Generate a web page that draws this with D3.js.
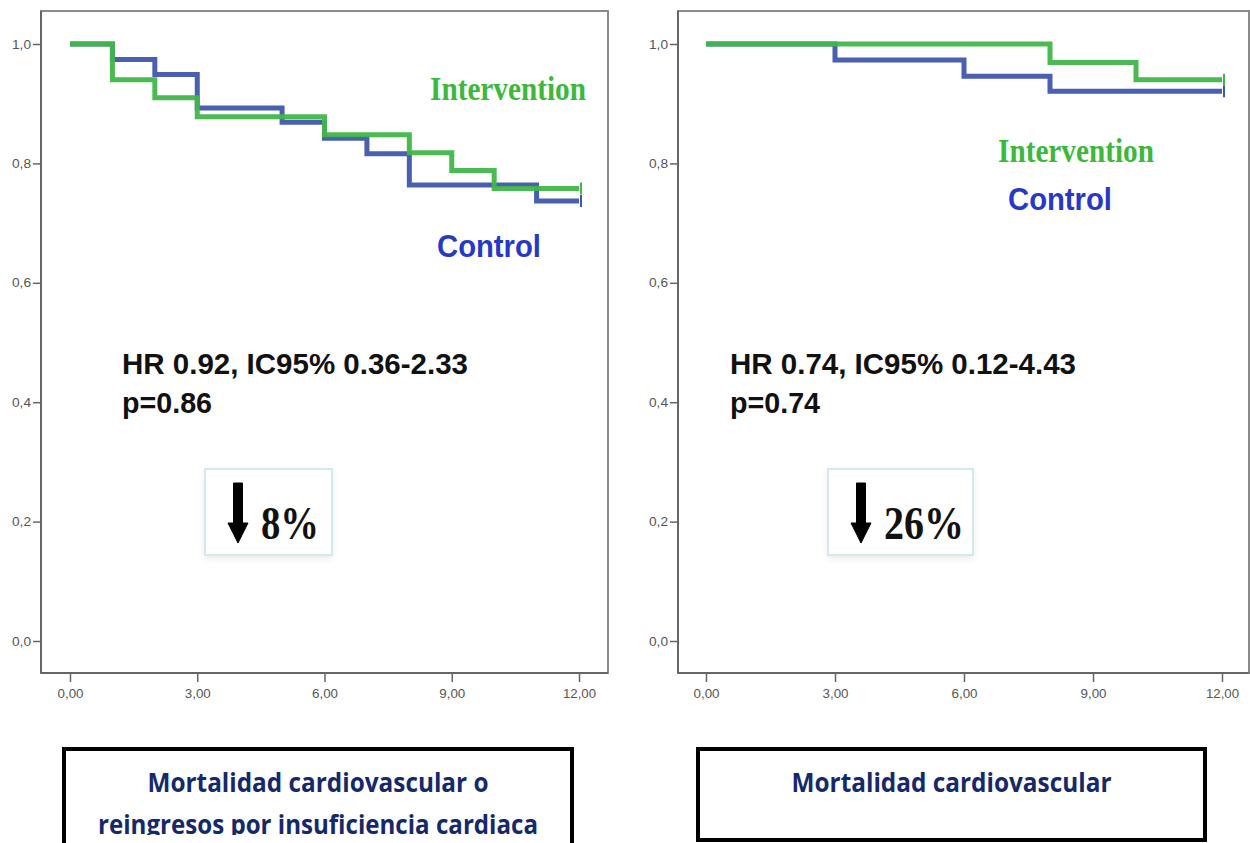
<!DOCTYPE html>
<html>
<head>
<meta charset="utf-8">
<script src="https://cdn.jsdelivr.net/npm/d3@7"></script>
<style>
  html, body { margin: 0; padding: 0; background: #fff; }
  svg { display: block; }
</style>
</head>
<body>
<svg id="chart" width="1250" height="843"></svg>
<script>
// Kaplan-Meier steps (months, survival)
const leftControlTimes = [0, 1, 2, 3, 5, 6, 7, 8, 11, 12];
const leftControlSurv = [1.0, 0.974, 0.949, 0.893, 0.869, 0.842, 0.816, 0.764, 0.737, 0.737];
const leftInterventionTimes = [0, 1, 2, 3, 6, 8, 9, 10, 12];
const leftInterventionSurv = [1.0, 0.940, 0.910, 0.878, 0.848, 0.818, 0.788, 0.758, 0.758];

const rightControlTimes = [0, 3, 6, 8, 12];
const rightControlSurv = [1.0, 0.973, 0.946, 0.921, 0.921];
const rightInterventionTimes = [0, 8, 10, 12];
const rightInterventionSurv = [1.0, 0.969, 0.940, 0.940];

const xTicks = [0, 3, 6, 9, 12];
const yTicks = [0, 0.2, 0.4, 0.6, 0.8, 1.0];

const leftStats = ["HR 0.92, IC95% 0.36-2.33", "p=0.86"];
const rightStats = ["HR 0.74, IC95% 0.12-4.43", "p=0.74"];
const leftReduction = "8%";
const rightReduction = "26%";
const leftTitle = ["Mortalidad cardiovascular o", "reingresos por insuficiencia cardiaca"];
const rightTitle = ["Mortalidad cardiovascular"];

const colors = {
    controlLine: "#3f56ad",
    interventionLine: "#41b64a",
    controlText: "#2639c6",
    interventionText: "#3cb93c",
    title: "#15296a"
};

const svg = d3.select("#chart");

const defs = svg.append("defs");
defs.append("filter").attr("id", "soft")
    .attr("x", "-10%").attr("y", "-10%").attr("width", "130%").attr("height", "140%")
    .append("feDropShadow")
    .attr("dx", 0).attr("dy", 3).attr("stdDeviation", 3)
    .attr("flood-color", "#000").attr("flood-opacity", 0.08);
defs.append("clipPath").attr("id", "bottomClip")
    .append("rect").attr("x", 0).attr("y", 0).attr("width", 1250).attr("height", 835);

const fmtY = d => d3.format(".1f")(d).replace(".", ",");
const fmtX = d => d3.format(".2f")(d).replace(".", ",");

function pairs(times, surv) {
    return times.map((t, i) => ({t: t, s: surv[i]}));
}

function drawPanel(cfg) {
    const g = svg.append("g");
    const x = d3.scaleLinear().domain([0, 12]).range(cfg.xRange);
    const y = d3.scaleLinear().domain([0, 1]).range([641, 44]);

    // frame
    g.append("rect")
        .attr("x", cfg.frame[0]).attr("y", 11)
        .attr("width", cfg.frame[1] - cfg.frame[0]).attr("height", 673 - 11)
        .attr("fill", "#fff").attr("stroke", "#8a8a8a").attr("stroke-width", 2);
    g.append("line")
        .attr("x1", cfg.frame[0]).attr("x2", cfg.frame[0]).attr("y1", 11).attr("y2", 673)
        .attr("stroke", "#666").attr("stroke-width", 2);
    g.append("line")
        .attr("x1", cfg.frame[0]).attr("x2", cfg.frame[1]).attr("y1", 673).attr("y2", 673)
        .attr("stroke", "#666").attr("stroke-width", 2);

    // axes
    const yAxis = d3.axisLeft(y).tickValues(yTicks).tickFormat(fmtY).tickSize(8).tickPadding(2);
    g.append("g").attr("transform", `translate(${cfg.frame[0]},0)`).call(yAxis)
        .call(a => a.select(".domain").remove())
        .call(a => a.selectAll("line").attr("stroke", "#666").attr("stroke-width", 1.5))
        .call(a => a.selectAll("text").attr("fill", "#555")
            .style("font", "13px 'Liberation Sans', Arial, sans-serif")
            .attr("textLength", 19).attr("lengthAdjust", "spacingAndGlyphs"));

    const xAxis = d3.axisBottom(x).tickValues(xTicks).tickFormat(fmtX).tickSize(9).tickPadding(7);
    g.append("g").attr("transform", "translate(0,673)").call(xAxis)
        .call(a => a.select(".domain").remove())
        .call(a => a.selectAll("line").attr("stroke", "#666").attr("stroke-width", 1.5))
        .call(a => a.selectAll("text").attr("fill", "#555")
            .style("font", "13px 'Liberation Sans', Arial, sans-serif")
            .attr("textLength", d => d >= 10 ? 33 : 26).attr("lengthAdjust", "spacingAndGlyphs"));

    // survival curves
    const line = d3.line().x(d => x(d.t)).y(d => y(d.s)).curve(d3.curveStepAfter);
    const series = [
        {data: cfg.control, color: colors.controlLine},
        {data: cfg.intervention, color: colors.interventionLine}
    ];
    series.forEach(s => {
        g.append("path").datum(s.data)
            .attr("d", line)
            .attr("fill", "none")
            .attr("stroke", s.color)
            .attr("stroke-width", 5)
            .attr("stroke-opacity", 0.95);
        const last = s.data[s.data.length - 1];
        g.append("line")
            .attr("x1", x(last.t) + 2).attr("x2", x(last.t) + 2)
            .attr("y1", y(last.s) - 6).attr("y2", y(last.s) + 6)
            .attr("stroke", s.color).attr("stroke-width", 2);
    });

    // curve labels
    g.append("text")
        .attr("x", cfg.interLabel[0]).attr("y", cfg.interLabel[1])
        .attr("textLength", 156).attr("lengthAdjust", "spacingAndGlyphs")
        .attr("fill", colors.interventionText)
        .style("font", "bold 34px 'Liberation Serif', 'Times New Roman', serif")
        .text("Intervention");
    g.append("text")
        .attr("x", cfg.controlLabel[0]).attr("y", cfg.controlLabel[1])
        .attr("textLength", 104).attr("lengthAdjust", "spacingAndGlyphs")
        .attr("fill", colors.controlText)
        .style("font", "bold 32px 'Liberation Sans', Arial, sans-serif")
        .text("Control");

    // stats
    g.selectAll("text.stat").data(cfg.stats).join("text")
        .attr("class", "stat")
        .attr("x", cfg.statsX)
        .attr("y", (d, i) => 374 + i * 39)
        .attr("textLength", (d, i) => i === 0 ? 346 : 90)
        .attr("lengthAdjust", "spacingAndGlyphs")
        .attr("fill", "#111")
        .style("font", "bold 30px 'Liberation Sans', Arial, sans-serif")
        .text(d => d);

    // reduction box
    const b = cfg.box;
    g.append("rect")
        .attr("x", b[0]).attr("y", 469).attr("width", b[1] - b[0]).attr("height", 86)
        .attr("fill", "#fff").attr("stroke", "#c6e4e6").attr("stroke-width", 1.5)
        .attr("filter", "url(#soft)");
    const ax = b[0] + 33;
    g.append("path")
        .attr("d", `M${ax - 4.5},483 L${ax + 4.5},483 L${ax + 4.5},523 L${ax + 10},523 L${ax},543 L${ax - 10},523 L${ax - 4.5},523 Z`)
        .attr("fill", "#000").attr("stroke", "#000").attr("stroke-width", 1).attr("stroke-linejoin", "round");
    g.append("text")
        .attr("x", b[0] + 56).attr("y", 539)
        .attr("textLength", cfg.reductionLen).attr("lengthAdjust", "spacingAndGlyphs")
        .attr("fill", "#111")
        .style("font", "bold 46px 'Liberation Serif', 'Times New Roman', serif")
        .text(cfg.reduction);

    // outcome title box
    const t = cfg.titleBox;
    const tg = svg.append("g").attr("clip-path", "url(#bottomClip)");
    svg.append("rect")
        .attr("x", t[0]).attr("y", 749).attr("width", t[1] - t[0]).attr("height", t[2] - 749)
        .attr("fill", "none").attr("stroke", "#000").attr("stroke-width", 4);
    tg.selectAll("text").data(cfg.title).join("text")
        .attr("x", (t[0] + t[1]) / 2)
        .attr("y", (d, i) => 792 + i * 42)
        .attr("text-anchor", "middle")
        .attr("textLength", (d, i) => cfg.titleLen[i])
        .attr("lengthAdjust", "spacingAndGlyphs")
        .attr("fill", colors.title)
        .style("font", "bold 27px 'Open Sans', 'Noto Sans', sans-serif")
        .text(d => d);
}

drawPanel({
    frame: [41, 608],
    xRange: [70, 579],
    control: pairs(leftControlTimes, leftControlSurv),
    intervention: pairs(leftInterventionTimes, leftInterventionSurv),
    interLabel: [430, 100],
    controlLabel: [437, 257],
    stats: leftStats,
    statsX: 122,
    box: [205, 332],
    reduction: leftReduction,
    reductionLen: 58,
    titleBox: [64, 572, 860],
    title: leftTitle,
    titleLen: [341, 440]
});

drawPanel({
    frame: [678, 1249],
    xRange: [706, 1222],
    control: pairs(rightControlTimes, rightControlSurv),
    intervention: pairs(rightInterventionTimes, rightInterventionSurv),
    interLabel: [998, 162],
    controlLabel: [1008, 210],
    stats: rightStats,
    statsX: 730,
    box: [828, 973],
    reduction: rightReduction,
    reductionLen: 80,
    titleBox: [698, 1205, 840],
    title: rightTitle,
    titleLen: [320]
});
</script>
</body>
</html>
